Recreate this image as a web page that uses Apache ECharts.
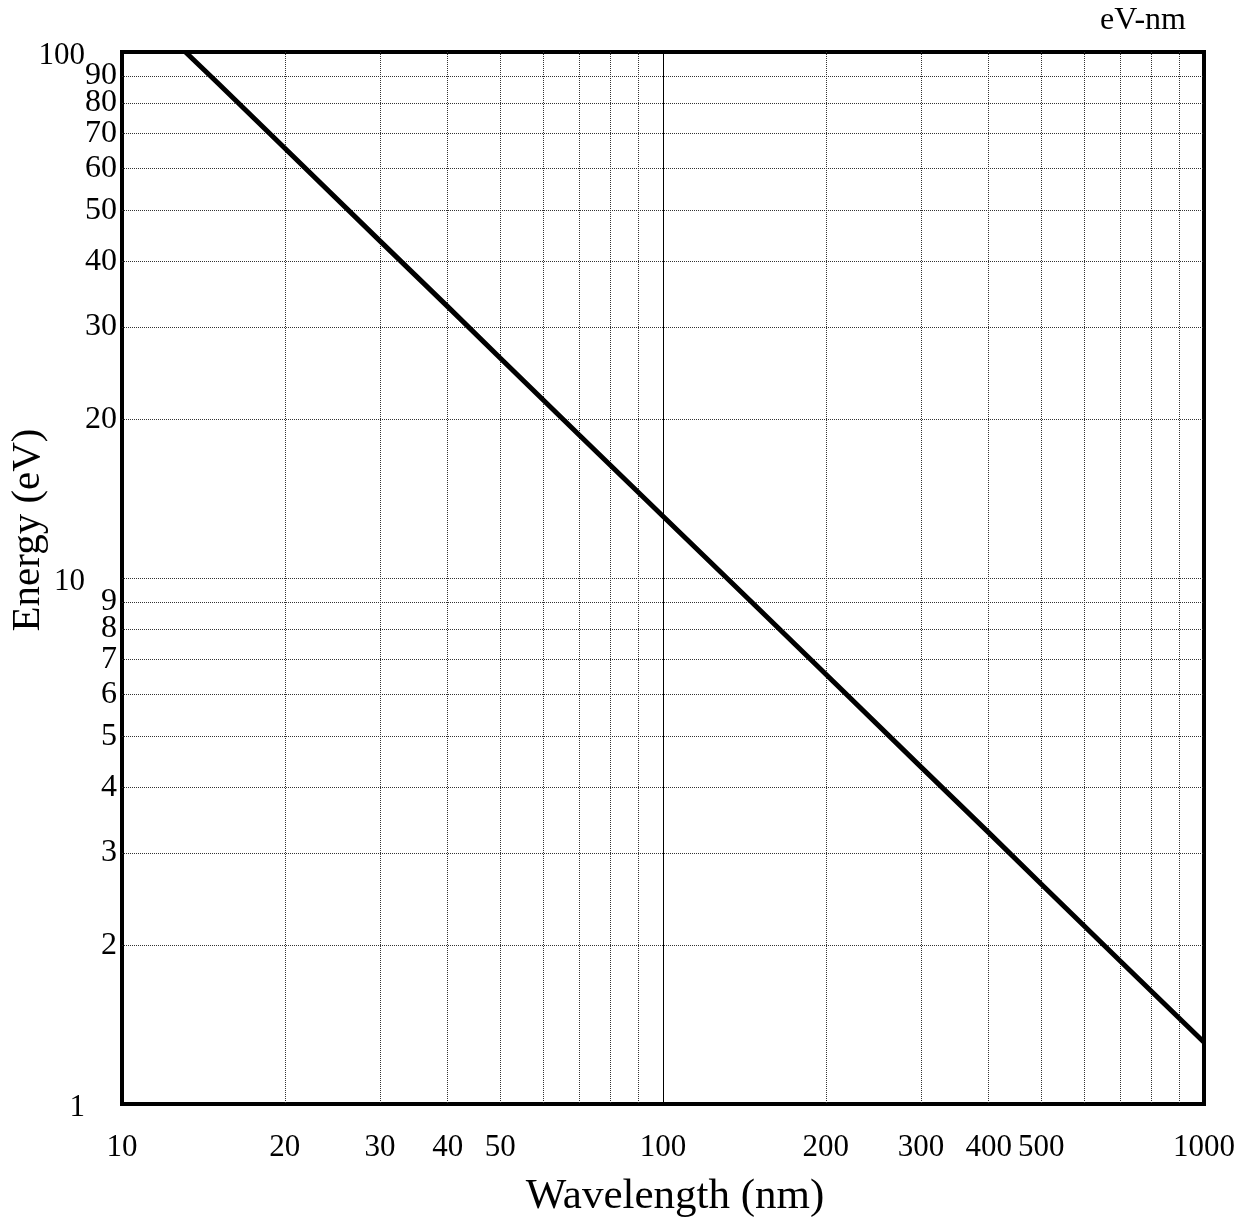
<!DOCTYPE html>
<html>
<head>
<meta charset="utf-8">
<title>Photon energy vs wavelength</title>
<script src="https://cdn.jsdelivr.net/npm/echarts@6/dist/echarts.min.js"></script>
<style>
  html, body { margin: 0; padding: 0; background: #fff; }
  #chart { width: 1256px; height: 1227px; }
</style>
</head>
<body>
<div id="chart"></div>
<script>
// Photon energy E (eV) against wavelength (nm), log-log.
const wavelengthNm = [13.1, 15, 20, 30, 40, 50, 70, 100, 150, 200, 300, 400, 500, 700, 1000];
const energyEv = [100, 87.5, 65.6, 43.7, 32.8, 26.2, 18.7, 13.1, 8.75, 6.56, 4.37, 3.28, 2.62, 1.87, 1.31];

// Labelled ticks on each axis
const xTickLabels = [10, 20, 30, 40, 50, 100, 200, 300, 400, 500, 1000];
const yTickLabels = [1, 2, 3, 4, 5, 6, 7, 8, 9, 10, 20, 30, 40, 50, 60, 70, 80, 90, 100];

// Dotted grid lines
const xGridValues = [20, 30, 40, 50, 60, 70, 80, 90, 200, 300, 400, 500, 600, 700, 800, 900];
const yGridValues = [2, 3, 4, 5, 6, 7, 8, 9, 10, 20, 30, 40, 50, 60, 70, 80, 90];

// Solid reference line
const xSolidLines = [100];

const SERIF = '"Liberation Serif", "Times New Roman", serif';
const isDecade = v => Math.abs(Math.log10(v) - Math.round(Math.log10(v))) < 1e-9;

const chart = echarts.init(document.getElementById('chart'));

const gridLine = { show: true, lineStyle: { color: '#333', width: 1, type: 'dotted' } };

chart.setOption({
  animation: false,
  backgroundColor: '#fff',
  grid: {
    left: 122, top: 52, width: 1082, height: 1052,
    show: true, borderColor: '#000', borderWidth: 4, backgroundColor: 'transparent'
  },
  xAxis: {
    type: 'log', logBase: 10, min: 10, max: 1000,
    axisLine: { show: false },
    axisTick: { show: false, customValues: xGridValues },
    splitLine: gridLine,
    axisLabel: {
      customValues: xTickLabels,
      formatter: v => String(v),
      margin: 28,
      color: '#000',
      fontFamily: SERIF,
      fontSize: 31
    }
  },
  yAxis: {
    type: 'log', logBase: 10, min: 1, max: 100,
    axisLine: { show: false },
    axisTick: { show: false, customValues: yGridValues },
    splitLine: gridLine,
    axisLabel: {
      customValues: yTickLabels,
      margin: 5,
      color: '#000',
      fontFamily: SERIF,
      fontSize: 32,
      formatter: v => isDecade(v) ? '{d|' + v + '}' : '{m|' + v + '}',
      rich: {
        d: { fontFamily: SERIF, fontSize: 31, color: '#000', padding: [8, 32, 0, 0] },
        m: { fontFamily: SERIF, fontSize: 32, color: '#000' }
      }
    }
  },
  graphic: [
    {
      type: 'text', x: 675, y: 1197,
      style: {
        text: 'Wavelength (nm)', font: '43px ' + SERIF, fill: '#000',
        align: 'center', verticalAlign: 'middle', textAlign: 'center', textVerticalAlign: 'middle'
      }
    },
    {
      type: 'text', x: 28, y: 530, rotation: Math.PI / 2,
      style: {
        text: 'Energy (eV)', font: '41px ' + SERIF, fill: '#000',
        align: 'center', verticalAlign: 'middle', textAlign: 'center', textVerticalAlign: 'middle'
      }
    },
    {
      type: 'text', x: 1143, y: 21,
      style: {
        text: 'eV-nm', font: '32px ' + SERIF, fill: '#000',
        align: 'center', verticalAlign: 'middle', textAlign: 'center', textVerticalAlign: 'middle'
      }
    }
  ],
  series: [
    {
      type: 'line',
      data: wavelengthNm.map((w, i) => [w, energyEv[i]]),
      symbol: 'none',
      smooth: false,
      lineStyle: { color: '#000', width: 5 },
      z: 5,
      markLine: {
        silent: true,
        symbol: 'none',
        label: { show: false },
        lineStyle: { color: '#000', width: 1, type: 'solid' },
        data: xSolidLines.map(v => ({ xAxis: v }))
      }
    }
  ]
});
</script>
</body>
</html>
